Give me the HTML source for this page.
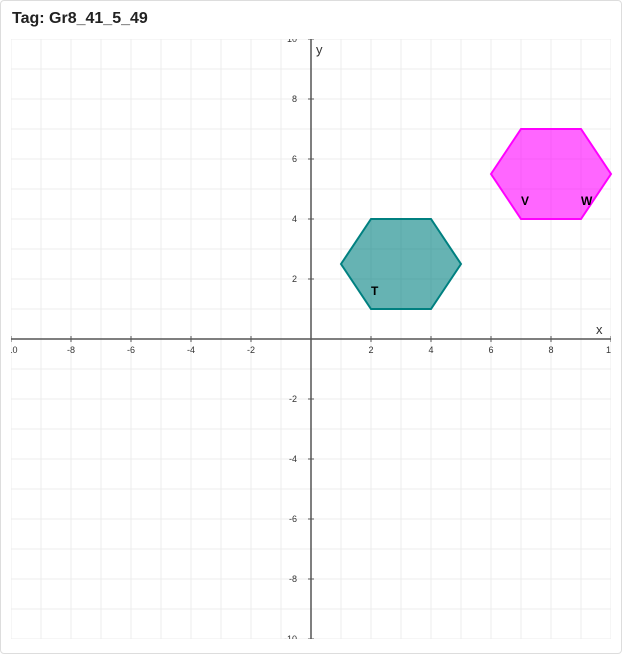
<!DOCTYPE html>
<html><head><meta charset="utf-8"><style>
body{margin:0;background:#fff;font-family:"Liberation Sans",Arial,sans-serif}
.card{position:absolute;left:0;top:0;width:620px;height:652px;border:1px solid #ddd;border-radius:4px;background:#fff}
h1{position:absolute;left:11px;top:9px;margin:0;font-size:16px;font-weight:bold;color:#222}
svg{position:absolute;left:0;top:0}
</style></head><body>
<div class="card">
<h1>Tag: Gr8_41_5_49</h1>
</div>
<svg id="chart" width="622" height="654"></svg>
<script>
const xTicks=[-10,-8,-6,-4,-2,2,4,6,8,10];
const yTicks=[-10,-8,-6,-4,-2,2,4,6,8,10];
const shapeT=[[1,2.5],[2,4],[4,4],[5,2.5],[4,1],[2,1]];
const shapeVW=[[6,5.5],[7,7],[9,7],[10,5.5],[9,4],[7,4]];
const labelNames=["T","V","W"];
const labelPos=[[2,1.6],[7,4.6],[9,4.6]];
const NS="http://www.w3.org/2000/svg";
const svg=document.getElementById('chart');
const X=v=>311+v*30, Y=v=>339-v*30;
function mk(t,a,p){const e=document.createElementNS(NS,t);for(const k in a)e.setAttribute(k,a[k]);(p||svg).appendChild(e);return e;}
const cp=mk('clipPath',{id:'c'});mk('rect',{x:11,y:39,width:600,height:600},cp);
const g=mk('g',{'clip-path':'url(#c)'});
for(let i=-10;i<=10;i++){
 let l=mk('line',{x1:X(i),x2:X(i),y1:39,y2:639,stroke:'#ececec','stroke-width':1},g);
 
 l=mk('line',{x1:11,x2:611,y1:Y(i),y2:Y(i),stroke:'#ececec','stroke-width':1},g);
 
}
let ax=mk('line',{x1:11,x2:611,y1:Y(0),y2:Y(0),stroke:'#555','stroke-width':1.5});

ax=mk('line',{x1:X(0),x2:X(0),y1:39,y2:639,stroke:'#555','stroke-width':1.5});

xTicks.forEach(v=>{
 mk('line',{x1:X(v),x2:X(v),y1:Y(0)-3,y2:Y(0)+3,stroke:'#555'},g);
 const t=mk('text',{x:X(v),y:Y(0)+14,'font-size':9,'text-anchor':'middle',fill:'#333'},g);t.textContent=v;
 
});
yTicks.forEach(v=>{
 mk('line',{x1:X(0)-3,x2:X(0)+3,y1:Y(v),y2:Y(v),stroke:'#555'},g);
 const t=mk('text',{x:X(0)-14,y:Y(v)+3,'font-size':9,'text-anchor':'end',fill:'#333'},g);t.textContent=v;
 
});
let t=mk('text',{x:596,y:334,'font-size':13,fill:'#333'});t.textContent='x';

t=mk('text',{x:316,y:54,'font-size':13,fill:'#333'});t.textContent='y';

let p=mk('polygon',{points:shapeT.map(q=>X(q[0])+','+Y(q[1])).join(' '),fill:'rgba(0,128,128,0.6)',stroke:'#008080','stroke-width':2});

p=mk('polygon',{points:shapeVW.map(q=>X(q[0])+','+Y(q[1])).join(' '),fill:'rgba(255,0,255,0.6)',stroke:'#ff00ff','stroke-width':2});

labelNames.forEach((n,i)=>{
 const e=mk('text',{x:X(labelPos[i][0]),y:Y(labelPos[i][1])+4,'font-size':12,'font-weight':'bold',fill:'#000'});e.textContent=n;
 
});
</script>
</body></html>
